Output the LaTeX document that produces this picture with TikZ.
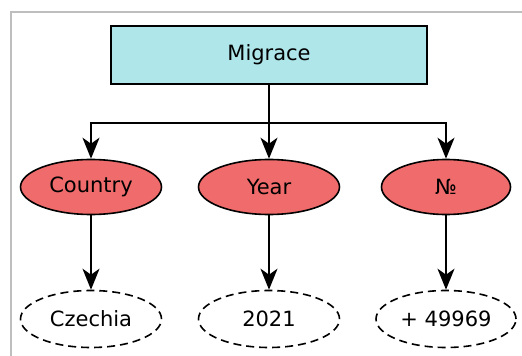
\documentclass[tikz,border=0pt]{standalone}
\usepackage{fontspec}
\setmainfont{DejaVu Sans}
\usetikzlibrary{arrows.meta,shapes.geometric}
\definecolor{boxfill}{RGB}{174,230,233}
\definecolor{keyfill}{RGB}{240,107,107}
\definecolor{framegray}{RGB}{190,190,190}
\tikzset{
  rootbox/.style={draw, line width=1.8pt, fill=boxfill, minimum width=316pt, minimum height=58pt, inner sep=0pt},
  keynode/.style={draw, ellipse, line width=1.6pt, fill=keyfill, minimum height=55pt, inner sep=0pt},
  valnode/.style={draw, ellipse, line width=1.6pt, dash pattern=on 8pt off 5pt, minimum height=57pt, inner sep=0pt},
  link/.style={line width=1.8pt, -{Stealth[length=21pt, width=17pt, inset=6pt]}},
  txt/.style={font=\fontsize{21}{25}\selectfont}
}
\begin{document}
\begin{tikzpicture}[x=1pt, y=-1pt]
  \useasboundingbox (0,0) rectangle (522,356);
  % outer frame
  \draw[framegray, line width=2pt] (11,356) -- (11,12) -- (522,12);

  % root
  \node[rootbox, txt] (m) at (269,55) {Migrace};

  % attribute names
  \node[keynode, txt, minimum width=141pt] (c) at (91,187) {Country};
  \node[keynode, txt, minimum width=141pt] (y) at (269,187) {Year};
  \node[keynode, txt, minimum width=129pt] (n) at (446,187) {№};

  % values
  \node[valnode, txt, minimum width=141pt] (cv) at (91,319) {Czechia};
  \node[valnode, txt, minimum width=141pt] (yv) at (269,319) {2021};
  \node[valnode, txt, minimum width=140pt] (nv) at (446,319) {+ 49969};

  % connectors
  \coordinate (j) at (269,123);
  \draw[link] (m.south) -- (j) -| (c.north);
  \draw[link] (m.south) -- (y.north);
  \draw[link] (j) -| (n.north);
  \draw[link] (c.south) -- (cv.north);
  \draw[link] (y.south) -- (yv.north);
  \draw[link] (n.south) -- (nv.north);
\end{tikzpicture}
\end{document}
